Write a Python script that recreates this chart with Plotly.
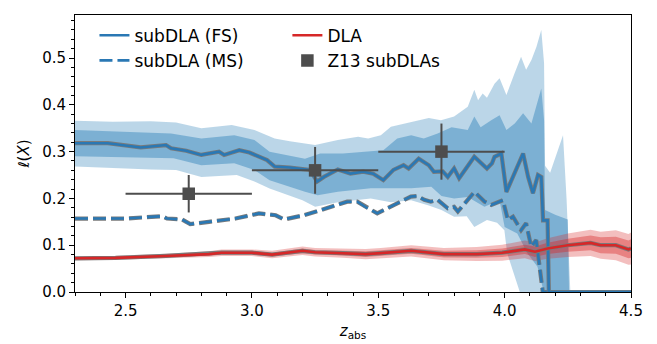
import plotly.graph_objects as go

# ---- subDLA line density, full sample (FS) ----
fs_z = [2.30, 2.43, 2.56, 2.66, 2.68, 2.74, 2.80, 2.87, 2.89, 2.95, 2.99, 3.06, 3.09,
        3.15, 3.23, 3.258, 3.285, 3.34, 3.39, 3.44, 3.48, 3.52, 3.56, 3.60, 3.62, 3.66,
        3.70, 3.72, 3.755, 3.775, 3.80, 3.82, 3.88, 3.93, 3.95, 3.96, 3.987, 4.007,
        4.073, 4.093, 4.112, 4.132, 4.145, 4.152, 4.17, 4.175, 4.50]
fs_l = [0.318, 0.318, 0.309, 0.314, 0.307, 0.302, 0.293, 0.300, 0.293, 0.303, 0.298, 0.282, 0.268,
        0.266, 0.261, 0.236, 0.246, 0.262, 0.253, 0.257, 0.253, 0.239, 0.261, 0.271, 0.264, 0.285,
        0.271, 0.257, 0.258, 0.246, 0.264, 0.243, 0.289, 0.264, 0.275, 0.289, 0.296, 0.214,
        0.296, 0.246, 0.211, 0.250, 0.246, 0.153, 0.153, 0.0, 0.0]

# FS 68% band edges
fs_hi1_z = [2.30, 2.68, 2.80, 2.93, 3.01, 3.07, 3.21, 3.27, 3.36, 3.44, 3.52, 3.575, 3.63,
            3.68, 3.735, 3.79, 3.854, 3.88, 3.905, 3.947, 3.98, 4.007, 4.04, 4.073, 4.106,
            4.145, 4.156, 4.16, 4.20, 4.25, 4.255]
fs_hi1 = [0.346, 0.339, 0.328, 0.335, 0.325, 0.300, 0.285, 0.296, 0.296, 0.300, 0.303, 0.328, 0.335,
          0.328, 0.339, 0.352, 0.346, 0.375, 0.352, 0.367, 0.378, 0.346, 0.360, 0.382, 0.360,
          0.435, 0.367, 0.175, 0.165, 0.155, 0.0]
fs_lo1_z = [2.30, 2.69, 2.80, 2.93, 3.01, 3.07, 3.21, 3.26, 3.34, 3.47, 3.55, 3.63, 3.71,
            3.75, 3.80, 3.854, 3.92, 3.98, 4.00, 4.05, 4.09, 4.13, 4.155, 4.255]
fs_lo1 = [0.290, 0.286, 0.271, 0.275, 0.261, 0.239, 0.214, 0.207, 0.214, 0.222, 0.222, 0.222, 0.225,
          0.205, 0.200, 0.203, 0.182, 0.196, 0.139, 0.125, 0.083, 0.054, 0.0, 0.0]

# FS 95% band edges
fs_hi2_z = [2.30, 2.45, 2.60, 2.70, 2.80, 2.92, 3.01, 3.09, 3.15, 3.25, 3.34, 3.42, 3.46,
            3.51, 3.55, 3.63, 3.70, 3.748, 3.80, 3.854, 3.88, 3.895, 3.913, 3.93, 3.96, 3.98,
            4.007, 4.039, 4.065, 4.085, 4.106, 4.126, 4.145, 4.156, 4.16, 4.18, 4.231, 4.245, 4.26]
fs_hi2 = [0.366, 0.364, 0.365, 0.362, 0.350, 0.357, 0.346, 0.328, 0.322, 0.314, 0.325, 0.332, 0.328,
          0.335, 0.353, 0.364, 0.372, 0.367, 0.375, 0.396, 0.432, 0.410, 0.424, 0.415, 0.445, 0.457,
          0.421, 0.467, 0.503, 0.475, 0.496, 0.524, 0.560, 0.489, 0.270, 0.255, 0.335, 0.200, 0.0]
fs_lo2_z = [2.30, 2.60, 2.70, 2.80, 2.94, 3.01, 3.07, 3.20, 3.25, 3.34, 3.47, 3.55, 3.63,
            3.70, 3.75, 3.80, 3.85, 3.88, 3.93, 3.97, 3.999, 4.01, 4.04, 4.06, 4.26]
fs_lo2 = [0.268, 0.262, 0.261, 0.246, 0.250, 0.236, 0.221, 0.196, 0.182, 0.192, 0.200, 0.192, 0.196,
          0.185, 0.175, 0.161, 0.162, 0.139, 0.154, 0.148, 0.132, 0.083, 0.035, 0.0, 0.0]

# ---- subDLA line density, metal sample (MS) ----
ms_z = [2.30, 2.50, 2.644, 2.664, 2.723, 2.756, 2.83, 2.935, 3.028, 3.054, 3.094, 3.127, 3.206,
        3.272, 3.377, 3.417, 3.457, 3.496, 3.563, 3.629, 3.655, 3.682, 3.708, 3.735, 3.775,
        3.80, 3.815, 3.881, 3.921, 3.947, 3.993, 4.013, 4.033, 4.065, 4.085, 4.105, 4.125,
        4.138, 4.151, 4.50]
ms_l = [0.157, 0.157, 0.162, 0.157, 0.155, 0.145, 0.150, 0.157, 0.168, 0.166, 0.164, 0.155, 0.164,
        0.175, 0.193, 0.193, 0.179, 0.168, 0.186, 0.204, 0.205, 0.197, 0.193, 0.197, 0.179,
        0.182, 0.172, 0.214, 0.193, 0.186, 0.196, 0.154, 0.161, 0.132, 0.147, 0.097, 0.111,
        0.061, 0.0, 0.0]

# ---- DLA line density with 68% / 95% bands ----
dla_z = [2.30, 2.46, 2.66, 2.83, 2.88, 3.00, 3.08, 3.20, 3.25, 3.36, 3.45, 3.51, 3.63,
         3.76, 3.89, 3.99, 4.08, 4.12, 4.17, 4.25, 4.34, 4.38, 4.44, 4.49, 4.50]
dla_l = [0.072, 0.073, 0.077, 0.081, 0.084, 0.084, 0.080, 0.088, 0.085, 0.083, 0.081, 0.083, 0.088,
         0.081, 0.081, 0.084, 0.091, 0.086, 0.093, 0.100, 0.105, 0.100, 0.100, 0.091, 0.093]
dla_hi1 = [0.074, 0.075, 0.080, 0.084, 0.088, 0.088, 0.084, 0.093, 0.090, 0.088, 0.087, 0.089, 0.094,
           0.088, 0.089, 0.093, 0.101, 0.097, 0.105, 0.114, 0.121, 0.117, 0.118, 0.110, 0.113]
dla_lo1 = [0.070, 0.071, 0.074, 0.078, 0.080, 0.080, 0.076, 0.083, 0.080, 0.078, 0.075, 0.077, 0.082,
           0.074, 0.073, 0.075, 0.081, 0.075, 0.081, 0.086, 0.089, 0.083, 0.082, 0.072, 0.073]
dla_hi2 = [0.076, 0.077, 0.082, 0.087, 0.091, 0.091, 0.088, 0.097, 0.094, 0.093, 0.092, 0.094, 0.100,
           0.094, 0.096, 0.101, 0.110, 0.106, 0.115, 0.125, 0.133, 0.129, 0.132, 0.124, 0.127]
dla_lo2 = [0.068, 0.069, 0.072, 0.075, 0.077, 0.077, 0.072, 0.079, 0.076, 0.073, 0.070, 0.072, 0.076,
           0.068, 0.066, 0.067, 0.072, 0.066, 0.071, 0.075, 0.077, 0.071, 0.068, 0.058, 0.059]

# ---- Z13 subDLA measurements ----
z13_z = [2.75, 3.25, 3.75]
z13_dz = [0.25, 0.25, 0.25]
z13_l = [0.21, 0.26, 0.30]
z13_dl = [0.04, 0.05, 0.06]

BLUE = "#2a78b4"
RED = "#d62728"
GREY = "#4d4d4d"
OUTLINE = "#7a7a7a"


def band(xs_hi, hi, xs_lo, lo, color, name):
    return go.Scatter(x=list(xs_hi) + list(xs_lo)[::-1], y=list(hi) + list(lo)[::-1],
                      fill="toself", fillcolor=color, mode="lines", line=dict(width=0),
                      hoverinfo="skip", showlegend=False, name=name)


fig = go.Figure()

# subDLA bands
fig.add_trace(band(fs_hi2_z, fs_hi2, fs_lo2_z, fs_lo2, "rgba(31,119,180,0.3)", "fs95"))
fig.add_trace(band(fs_hi1_z, fs_hi1, fs_lo1_z, fs_lo1, "rgba(31,119,180,0.4)", "fs68"))
# DLA bands
fig.add_trace(band(dla_z, dla_hi2, dla_z, dla_lo2, "rgba(214,39,40,0.3)", "dla95"))
fig.add_trace(band(dla_z, dla_hi1, dla_z, dla_lo1, "rgba(214,39,40,0.4)", "dla68"))

# subDLA lines with a grey outline
fig.add_trace(go.Scatter(x=ms_z, y=ms_l, mode="lines", showlegend=False,
                         line=dict(color=OUTLINE, width=4.2, dash="13px,5px")))
fig.add_trace(go.Scatter(x=ms_z, y=ms_l, mode="lines", name="subDLA (MS)",
                         legend="legend", legendrank=2,
                         line=dict(color=BLUE, width=2.6, dash="13px,5px")))
fig.add_trace(go.Scatter(x=fs_z, y=fs_l, mode="lines", showlegend=False,
                         line=dict(color=OUTLINE, width=4.2)))
fig.add_trace(go.Scatter(x=fs_z, y=fs_l, mode="lines", name="subDLA (FS)",
                         legend="legend", legendrank=1,
                         line=dict(color=BLUE, width=2.6)))

# DLA line
fig.add_trace(go.Scatter(x=dla_z, y=dla_l, mode="lines", showlegend=False,
                         line=dict(color=OUTLINE, width=4.2)))
fig.add_trace(go.Scatter(x=dla_z, y=dla_l, mode="lines", name="DLA",
                         legend="legend2", legendrank=1,
                         line=dict(color=RED, width=2.6)))

# Z13 points
fig.add_trace(go.Scatter(
    x=z13_z, y=z13_l, mode="markers", name="Z13 subDLAs",
    legend="legend2", legendrank=2,
    marker=dict(symbol="square", size=12.5, color=GREY),
    error_x=dict(type="data", array=z13_dz, color=GREY, thickness=2, width=0),
    error_y=dict(type="data", array=z13_dl, color=GREY, thickness=2, width=0),
))

axis_common = dict(showline=True, linecolor="black", linewidth=1, mirror=True,
                   ticks="outside", ticklen=5, tickwidth=1, tickcolor="black",
                   showgrid=False, zeroline=False, automargin=False,
                   tickfont=dict(family="DejaVu Sans", size=15, color="black"))

fig.update_xaxes(range=[2.3, 4.5], tickvals=[2.5, 3.0, 3.5, 4.0, 4.5], tickformat=".1f",
                 minor=dict(dtick=0.1, tick0=2.3, ticks="outside", ticklen=3, tickcolor="black"),
                 title=dict(text="<i>z</i><sub>abs</sub>", standoff=6,
                            font=dict(family="DejaVu Sans", size=15, color="black")),
                 **axis_common)
fig.update_yaxes(range=[0, 0.592], tickvals=[0, 0.1, 0.2, 0.3, 0.4, 0.5], tickformat=".1f",
                 minor=dict(dtick=0.02, tick0=0, ticks="outside", ticklen=3, tickcolor="black"),
                 title=dict(text="<i>ℓ</i>(<i>X</i>)", standoff=8,
                            font=dict(family="DejaVu Sans", size=15, color="black")),
                 **axis_common)

legend_style = dict(orientation="v", yanchor="top", xanchor="left", y=0.99,
                    bgcolor="rgba(0,0,0,0)", tracegroupgap=0, itemwidth=30,
                    font=dict(family="DejaVu Sans", size=17, color="black"))

fig.update_layout(
    width=657, height=344,
    margin=dict(l=75, r=26, t=15, b=52),
    paper_bgcolor="white", plot_bgcolor="white",
    font=dict(family="DejaVu Sans", color="black"),
    legend=dict(x=0.035, **legend_style),
    legend2=dict(x=0.382, **legend_style),
)

fig.write_html("out.html")
